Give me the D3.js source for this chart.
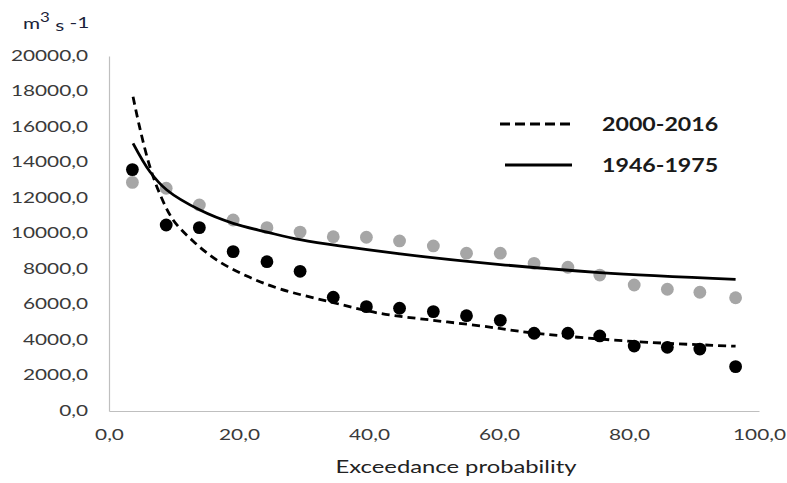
<!DOCTYPE html>
<html>
<head>
<meta charset="utf-8">
<script src="https://cdn.jsdelivr.net/npm/d3@7"></script>
<style>
  body { margin: 0; background: #fff; }
  svg { display: block; font-family: Lato, "Open Sans", sans-serif; }
</style>
</head>
<body>
<svg id="chart" width="787" height="483"></svg>
<script>
// exceedance probability (%) of each ranked value
const probs = [3.6, 8.8, 13.9, 19.1, 24.3, 29.4, 34.5, 39.6, 44.7, 49.9, 55.0, 60.2, 65.4, 70.6, 75.5, 80.8, 85.9, 90.9, 96.4];
// observed discharges, m3 s-1
const obs2000 = [13600, 10480, 10330, 8980, 8410, 7870, 6410, 5880, 5790, 5600, 5370, 5110, 4380, 4380, 4230, 3660, 3590, 3490, 2500];
const obs1946 = [12880, 12550, 11610, 10760, 10330, 10080, 9820, 9790, 9580, 9300, 8890, 8890, 8320, 8100, 7660, 7100, 6860, 6690, 6380];

// trend curves
const trendX2000 = [3.7, 4.8, 6.3, 7.8, 9.9, 13.0, 16.6, 21.2, 26.3, 34.0, 41.7, 49.4, 57.1, 65.2, 80.6, 96.4];
const trendY2000 = [17700, 15850, 13750, 12250, 10750, 9550, 8500, 7600, 6880, 6150, 5500, 5130, 4800, 4400, 3920, 3650];
const trendX1946 = [3.7, 6.3, 8.9, 14.0, 19.1, 24.3, 29.4, 44.8, 60.2, 75.5, 96.4];
const trendY1946 = [15080, 13480, 12450, 11320, 10570, 10080, 9650, 8850, 8250, 7800, 7420];

const yTicks = [0, 2000, 4000, 6000, 8000, 10000, 12000, 14000, 16000, 18000, 20000];
const xTicks = [0, 20, 40, 60, 80, 100];
const legendNames = ["2000-2016", "1946-1975"];

const svg = d3.select("#chart");
const x = d3.scaleLinear().domain([0, 100]).range([109, 759]);
const y = d3.scaleLinear().domain([0, 20000]).range([411, 56]);
const fmt = d3.formatLocale({decimal: ",", thousands: "", grouping: [3]}).format(".1f");

// stretch text horizontally like the original picture
function stretch(sel, k) {
  sel.each(function() {
    const w = this.getComputedTextLength();
    d3.select(this).attr("textLength", w * k).attr("lengthAdjust", "spacingAndGlyphs");
  });
}

// axes
const yAxis = svg.append("g")
  .attr("transform", "translate(109,0)")
  .call(d3.axisLeft(y).tickValues(yTicks).tickSize(0).tickPadding(21).tickFormat(fmt));
const xAxis = svg.append("g")
  .attr("transform", "translate(0,411)")
  .call(d3.axisBottom(x).tickValues(xTicks).tickSize(0).tickPadding(18).tickFormat(fmt));
[yAxis, xAxis].forEach(a => {
  a.select(".domain").attr("stroke", "#bfbfbf").attr("stroke-width", 1.2);
  a.selectAll("text").attr("fill", "#3a3a3a").style("font-size", "16px").attr("font-family", "Lato");
});
yAxis.selectAll("text").attr("dy", "0.28em");
stretch(yAxis.selectAll("text"), 1.3);
stretch(xAxis.selectAll("text"), 1.3);

// x axis title
const xt = svg.append("text")
  .attr("x", 456).attr("y", 473)
  .attr("text-anchor", "middle")
  .attr("fill", "#222")
  .style("font-size", "17px")
  .text("Exceedance probability");
stretch(xt, 1.4);

// unit label
const ul = svg.append("text").attr("x", 23).attr("y", 29).attr("fill", "#1c1f3a").style("font-size", "16px");
ul.append("tspan").text("m");
ul.append("tspan").attr("dy", -7).style("font-size", "13px").text("3");
ul.append("tspan").attr("dy", 9).text(" s");
ul.append("tspan").attr("dy", -3).text(" -1");
stretch(ul, 1.3);

// observed points
svg.append("g").selectAll("circle")
  .data(obs1946)
  .join("circle")
  .attr("cx", (d, i) => x(probs[i]))
  .attr("cy", d => y(d))
  .attr("r", 6.4)
  .attr("fill", "#a6a6a6");
svg.append("g").selectAll("circle")
  .data(obs2000)
  .join("circle")
  .attr("cx", (d, i) => x(probs[i]))
  .attr("cy", d => y(d))
  .attr("r", 6.4)
  .attr("fill", "#000");

// trend lines
const line = d3.line().x(d => x(d[0])).y(d => y(d[1])).curve(d3.curveCatmullRom);
svg.append("path")
  .datum(d3.zip(trendX2000, trendY2000))
  .attr("d", line)
  .attr("fill", "none")
  .attr("stroke", "#000")
  .attr("stroke-width", 2.8)
  .attr("stroke-dasharray", "8,5");
svg.append("path")
  .datum(d3.zip(trendX1946, trendY1946))
  .attr("d", line)
  .attr("fill", "none")
  .attr("stroke", "#000")
  .attr("stroke-width", 2.8);

// legend
const legend = svg.append("g").selectAll("g")
  .data(legendNames)
  .join("g")
  .attr("transform", (d, i) => "translate(0," + (124 + i * 41) + ")");
legend.append("line")
  .attr("x1", (d, i) => i ? 505 : 500)
  .attr("x2", 572)
  .attr("stroke", "#000")
  .attr("stroke-width", 3)
  .attr("stroke-dasharray", (d, i) => i ? null : "10,5");
const lt = legend.append("text")
  .attr("x", 602)
  .attr("dy", "0.35em")
  .attr("fill", "#1a1a1a")
  .style("font-size", "19px")
  .style("font-weight", "bold")
  .text(d => d);
stretch(lt, 1.22);
</script>
</body>
</html>
